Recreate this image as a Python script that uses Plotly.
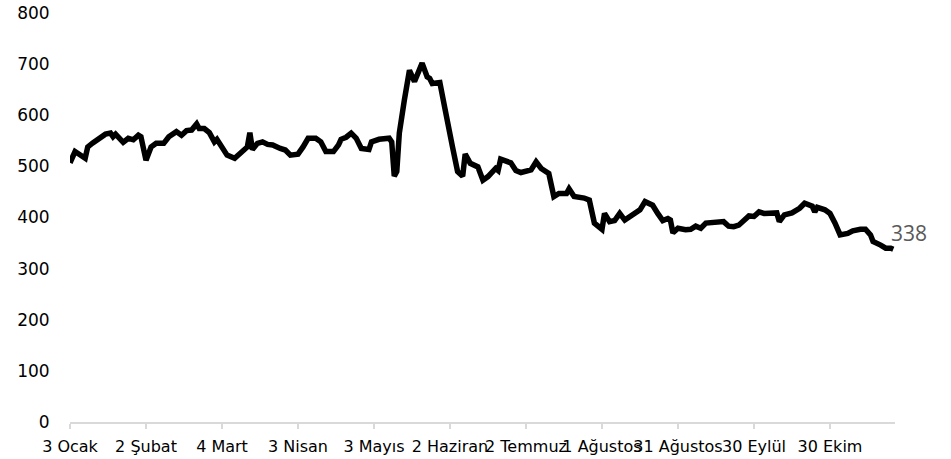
import plotly.graph_objects as go

dates = [
    "2022-01-03", "2022-01-05", "2022-01-09", "2022-01-10", "2022-01-12", "2022-01-15",
    "2022-01-17", "2022-01-19", "2022-01-20", "2022-01-21", "2022-01-24", "2022-01-26",
    "2022-01-28", "2022-01-30", "2022-01-31",
    "2022-02-02", "2022-02-04", "2022-02-06", "2022-02-09", "2022-02-11", "2022-02-14",
    "2022-02-16", "2022-02-18", "2022-02-20", "2022-02-22", "2022-02-23", "2022-02-25",
    "2022-02-27",
    "2022-03-01", "2022-03-02", "2022-03-04", "2022-03-06", "2022-03-09", "2022-03-12",
    "2022-03-14", "2022-03-15", "2022-03-16", "2022-03-18", "2022-03-20", "2022-03-22",
    "2022-03-24", "2022-03-27", "2022-03-29", "2022-03-31",
    "2022-04-03", "2022-04-05", "2022-04-07", "2022-04-10", "2022-04-12", "2022-04-14",
    "2022-04-17", "2022-04-19", "2022-04-20", "2022-04-22", "2022-04-24", "2022-04-26",
    "2022-04-28",
    "2022-05-01", "2022-05-02", "2022-05-05", "2022-05-07", "2022-05-09", "2022-05-10",
    "2022-05-11", "2022-05-12", "2022-05-13", "2022-05-15", "2022-05-17", "2022-05-19",
    "2022-05-20", "2022-05-22", "2022-05-24", "2022-05-25", "2022-05-26", "2022-05-29",
    "2022-05-31",
    "2022-06-01", "2022-06-03", "2022-06-05", "2022-06-07", "2022-06-08", "2022-06-10",
    "2022-06-13", "2022-06-15", "2022-06-17", "2022-06-20", "2022-06-21", "2022-06-22",
    "2022-06-26", "2022-06-28", "2022-06-30",
    "2022-07-04", "2022-07-06", "2022-07-08", "2022-07-11", "2022-07-13", "2022-07-15",
    "2022-07-18", "2022-07-19", "2022-07-21", "2022-07-25", "2022-07-27", "2022-07-29",
    "2022-08-01", "2022-08-02", "2022-08-04", "2022-08-06", "2022-08-08", "2022-08-10",
    "2022-08-13", "2022-08-16", "2022-08-18", "2022-08-21", "2022-08-23", "2022-08-25",
    "2022-08-27", "2022-08-28", "2022-08-29", "2022-08-31",
    "2022-09-03", "2022-09-05", "2022-09-07", "2022-09-09", "2022-09-11", "2022-09-15",
    "2022-09-18", "2022-09-20", "2022-09-22", "2022-09-24", "2022-09-26", "2022-09-28",
    "2022-09-30",
    "2022-10-02", "2022-10-04", "2022-10-08", "2022-10-09", "2022-10-10", "2022-10-12",
    "2022-10-15", "2022-10-18", "2022-10-20", "2022-10-23", "2022-10-24", "2022-10-25",
    "2022-10-28", "2022-10-30",
    "2022-11-01", "2022-11-03", "2022-11-06", "2022-11-08", "2022-11-11", "2022-11-13",
    "2022-11-15", "2022-11-16", "2022-11-19", "2022-11-21", "2022-11-23", "2022-11-24",
]

values = [
    507, 529, 516, 538, 546, 558,
    563, 565, 558, 563, 547, 555,
    552, 561, 558,
    512, 538, 545, 545, 558, 568,
    561, 570, 571, 583, 574, 574,
    566,
    548, 553, 538, 522, 516, 529,
    538, 566, 533, 545, 548, 543,
    542, 535, 532, 522,
    524, 538, 555, 555, 548, 529,
    529, 542, 553, 557, 565, 555,
    535,
    533, 548, 553, 553, 555, 548,
    481, 490, 565, 630, 688, 666,
    679, 702, 675, 672, 662, 664,
    613,
    584, 538, 490, 481, 524, 506,
    499, 473, 480, 496, 492, 514,
    507, 492, 488,
    493, 509, 496, 486, 441, 447,
    447, 456, 441, 438, 434, 389,
    377, 408, 392, 394, 408, 395,
    405, 415, 431, 424, 408, 394,
    398, 395, 370, 379,
    376, 377, 383, 379, 389, 392,
    392, 383, 382, 385, 395, 403,
    402,
    411, 408, 408, 409, 392, 405,
    409, 418, 428, 422, 411, 420,
    415, 408,
    389, 366, 369, 374, 377, 377,
    366, 353, 346, 340, 340, 338,
]

tick_dates = [
    "2022-01-03", "2022-02-02", "2022-03-04", "2022-04-03", "2022-05-03", "2022-06-02",
    "2022-07-02", "2022-08-01", "2022-08-31", "2022-09-30", "2022-10-30",
]
tick_labels = [
    "3 Ocak", "2 Şubat", "4 Mart", "3 Nisan", "3 Mayıs", "2 Haziran",
    "2 Temmuz", "1 Ağustos", "31 Ağustos", "30 Eylül", "30 Ekim",
]

y_ticks = [0, 100, 200, 300, 400, 500, 600, 700, 800]

FONT = "DejaVu Sans"

fig = go.Figure()
fig.add_trace(go.Scatter(
    x=dates, y=values, mode="lines",
    line=dict(color="#000000", width=5.5, shape="linear"),
    cliponaxis=False, showlegend=False, hoverinfo="x+y",
))

fig.add_annotation(
    x=dates[-1], y=values[-1], xref="x", yref="y",
    text=str(values[-1]), showarrow=False,
    xanchor="left", yanchor="middle", xshift=-4, yshift=16,
    font=dict(family="Open Sans", size=21, color="#595959"),
)

fig.update_layout(
    width=951, height=459,
    margin=dict(l=70, r=56, t=13, b=37, autoexpand=False),
    paper_bgcolor="white", plot_bgcolor="white",
    font=dict(family=FONT, size=16, color="#000000"),
    xaxis=dict(
        type="date",
        range=["2022-01-03", "2022-11-24 16:00"],
        tickmode="array", tickvals=tick_dates, ticktext=tick_labels,
        showgrid=False, zeroline=False, automargin=False,
        showline=True, linecolor="#d9d9d9", linewidth=1.5,
        ticks="outside", ticklen=5, tickcolor="#d9d9d9", tickwidth=1.5,
        ticklabelstandoff=4,
        tickfont=dict(family=FONT, size=16, color="#000000"),
        tickangle=0,
    ),
    yaxis=dict(
        range=[0, 800], automargin=False,
        tickmode="array", tickvals=y_ticks, ticktext=[str(v) for v in y_ticks],
        showgrid=False, zeroline=False, showline=False,
        ticks="outside", ticklen=16, tickcolor="rgba(0,0,0,0)",
        tickfont=dict(family=FONT, size=17, color="#000000"),
    ),
)

fig.write_html(
    "out.html",
    config={"displayModeBar": False},
    post_script="document.body.style.margin='0';",
)
